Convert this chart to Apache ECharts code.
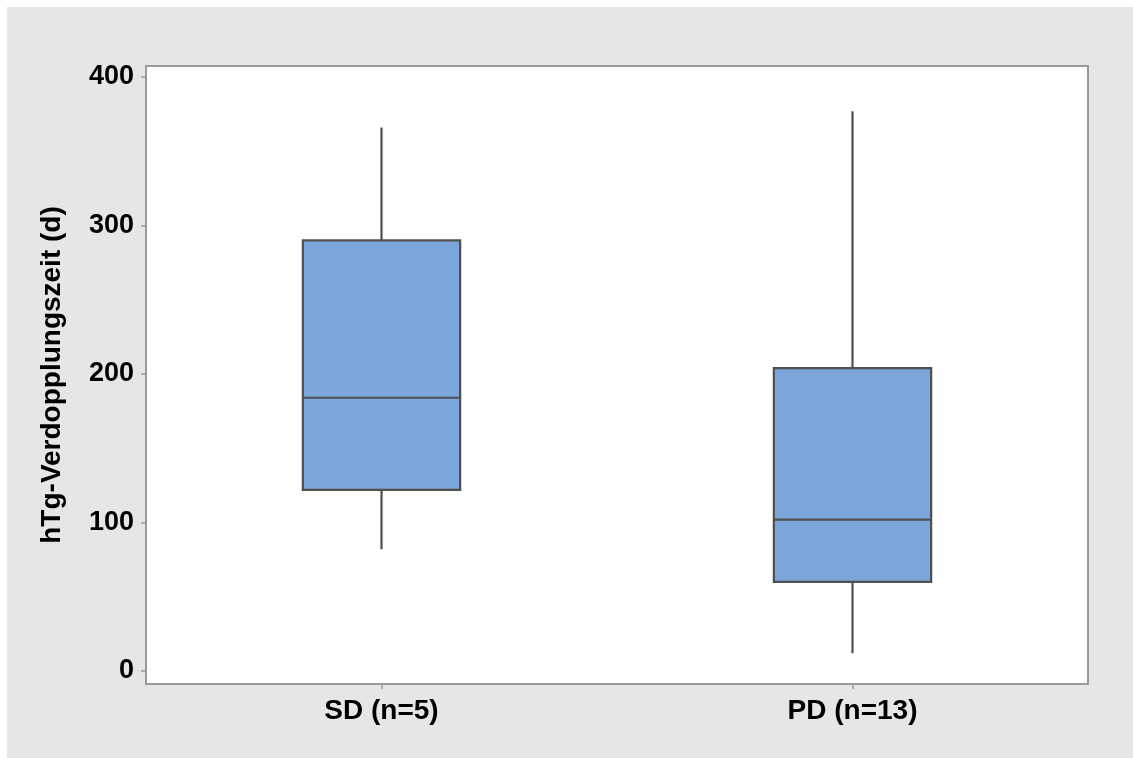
<!DOCTYPE html>
<html>
<head>
<meta charset="utf-8">
<script src="https://cdn.jsdelivr.net/npm/echarts@6/dist/echarts.min.js"></script>
<style>
  html, body { margin: 0; padding: 0; background: #ffffff; }
  #chart { width: 1133px; height: 758px; }
</style>
</head>
<body>
<div id="chart"></div>
<script>
// Groups on the x axis
const categories = ['SD (n=5)', 'PD (n=13)'];
// Five-number summaries: [lower whisker, Q1, median, Q3, upper whisker]
const sdStats = [82, 122, 184, 290, 366];
const pdStats = [12, 60, 102, 204, 377];
// Y axis ticks
const yTicks = [0, 100, 200, 300, 400];

const boxData = [sdStats, pdStats].map((s, i) => [i].concat(s));

const chart = echarts.init(document.getElementById('chart'));

const strokeColor = '#4f4f4f';
const fillColor = '#7ca6da';
const font = 'Liberation Sans, Arial, sans-serif';

// Box with plain whiskers (no end caps)
function renderBox(params, api) {
  const idx = api.value(0);
  const lo = api.coord([idx, api.value(1)]);
  const q1 = api.coord([idx, api.value(2)]);
  const med = api.coord([idx, api.value(3)]);
  const q3 = api.coord([idx, api.value(4)]);
  const hi = api.coord([idx, api.value(5)]);
  const band = api.size([1, 0])[0];
  const halfW = band * 0.167;
  const cx = lo[0];
  const lineStyle = { stroke: strokeColor, lineWidth: 2.2 };
  return {
    type: 'group',
    children: [
      { type: 'line', shape: { x1: cx, y1: hi[1], x2: cx, y2: q3[1] }, style: lineStyle },
      { type: 'line', shape: { x1: cx, y1: q1[1], x2: cx, y2: lo[1] }, style: lineStyle },
      { type: 'rect', shape: { x: cx - halfW, y: q3[1], width: halfW * 2, height: q1[1] - q3[1] },
        style: { fill: fillColor, stroke: strokeColor, lineWidth: 2.2 } },
      { type: 'line', shape: { x1: cx - halfW, y1: med[1], x2: cx + halfW, y2: med[1] }, style: lineStyle }
    ]
  };
}

chart.setOption({
  animation: false,
  backgroundColor: '#ffffff',
  graphic: [{
    type: 'rect',
    z: -10,
    silent: true,
    shape: { x: 7, y: 7, width: 1126, height: 751 },
    style: { fill: '#e6e6e6' }
  }],
  grid: {
    left: 146, top: 66, right: 45, bottom: 74,
    show: true,
    backgroundColor: '#ffffff',
    borderColor: '#9a9a9a',
    borderWidth: 2
  },
  xAxis: {
    type: 'category',
    data: categories,
    boundaryGap: true,
    axisLine: { show: true, onZero: false, lineStyle: { color: '#9a9a9a', width: 2 } },
    axisTick: { show: true, alignWithLabel: true, length: 5, lineStyle: { color: '#9a9a9a', width: 1.5 } },
    axisLabel: {
      color: '#000000', fontFamily: font,
      fontWeight: 'bold', fontSize: 28, margin: 13
    },
    splitLine: { show: false }
  },
  yAxis: {
    type: 'value',
    min: -8.75,
    max: 407.4,
    name: 'hTg-Verdopplungszeit (d)',
    nameLocation: 'middle',
    nameGap: 80,
    nameRotate: 90,
    nameTextStyle: {
      color: '#000000', fontFamily: font,
      fontWeight: 'bold', fontSize: 28
    },
    axisLine: { show: true, lineStyle: { color: '#9a9a9a', width: 2 } },
    axisTick: { show: true, length: 5, customValues: yTicks, lineStyle: { color: '#9a9a9a', width: 1.5 } },
    axisLabel: {
      color: '#000000', fontFamily: font,
      fontWeight: 'bold', fontSize: 27, margin: 12,
      customValues: yTicks
    },
    splitLine: { show: false }
  },
  series: [{
    type: 'custom',
    renderItem: renderBox,
    encode: { x: 0, y: [1, 2, 3, 4, 5] },
    data: boxData
  }]
});
</script>
</body>
</html>
